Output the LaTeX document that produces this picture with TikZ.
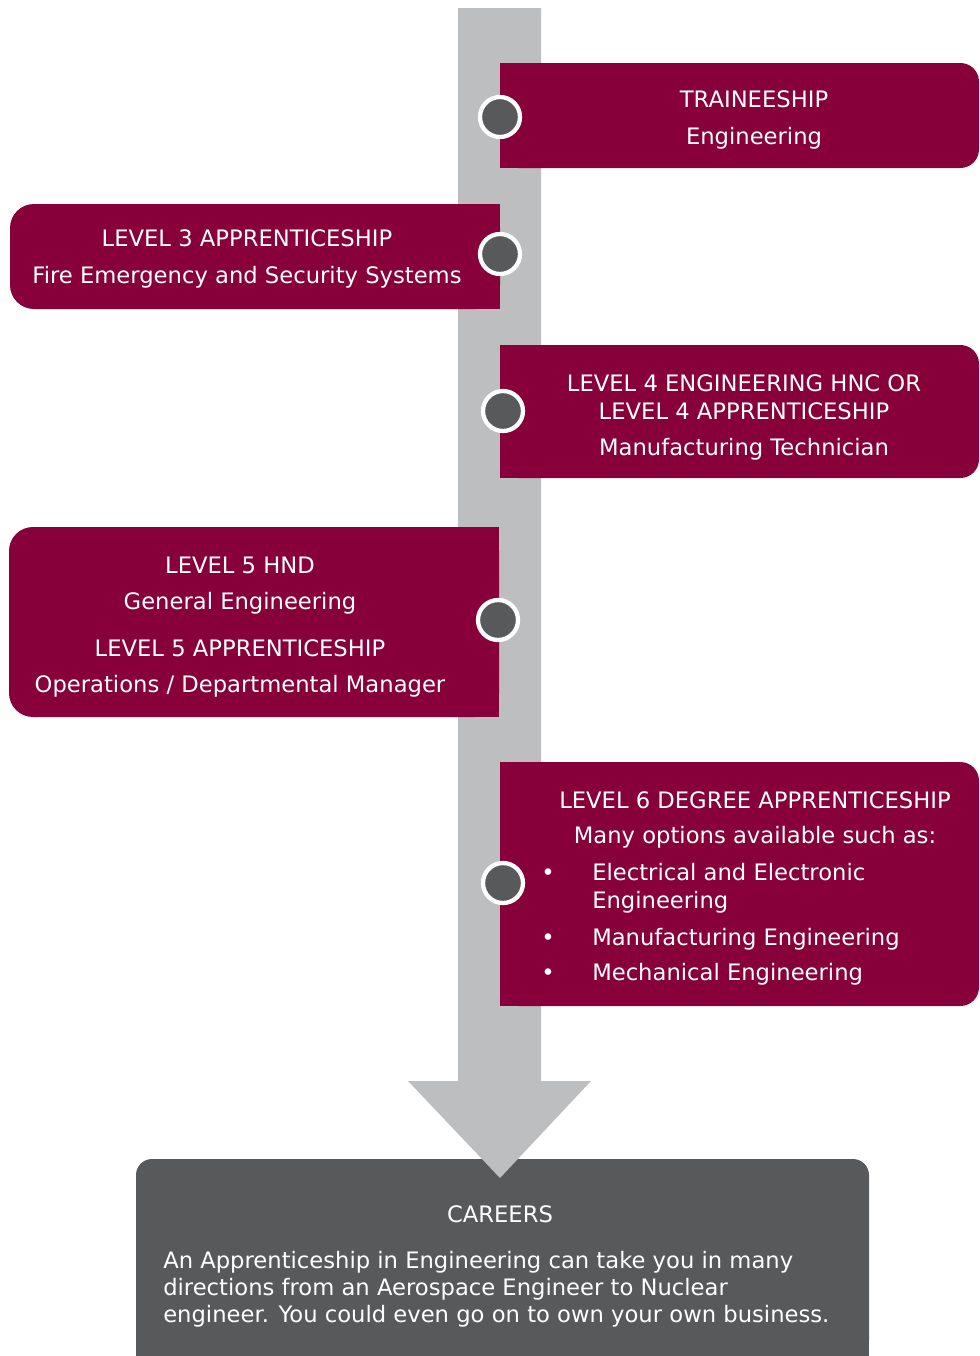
\documentclass[tikz,border=0pt]{standalone}
\usepackage{fontspec}
\setmainfont{DejaVu Sans}
\usepackage{tikz}
\usetikzlibrary{positioning}
\definecolor{wine}{RGB}{135,0,58}
\definecolor{slate}{RGB}{88,89,91}
\definecolor{rail}{RGB}{188,190,192}

\begin{document}
\begin{tikzpicture}[x=0.75pt,y=-0.75pt,
  txt/.style={text=white, inner sep=0pt, anchor=base, font=\fontsize{17}{20}\selectfont},
  txtl/.style={txt, anchor=base west},
  dot/.style={circle, fill=slate, draw=white, line width=3.2pt, minimum size=30pt, inner sep=0pt}]
\useasboundingbox (0,0) rectangle (979,1356);
% careers box, square at the bottom
\fill[slate, rounded corners=12] (136,1159) rectangle (869,1356);
\fill[slate] (136,1300) rectangle (869,1356);
% grey rail with arrow head
\fill[rail] (458,8)--(541,8)--(541,1081)--(591,1081)--(500,1178)--(408,1081)--(458,1081)--cycle;
% panels
\fill[wine, rounded corners=14] (500,63) rectangle (979,168);
\fill[wine] (500,63) rectangle (600,168);
\fill[wine, rounded corners=18] (10,204) rectangle (500,309);
\fill[wine] (400,204) rectangle (500,309);
\fill[wine, rounded corners=14] (500,345) rectangle (979,478);
\fill[wine] (500,345) rectangle (600,478);
\fill[wine, rounded corners=18] (9,527) rectangle (499,717);
\fill[wine] (400,527) rectangle (499,717);
\fill[wine, rounded corners=14] (500,762) rectangle (979,1006);
\fill[wine] (500,762) rectangle (600,1006);
\foreach \x/\y [count=\i] in {500/117, 500/254, 503/411, 498/620, 503/883}
  \node[dot] (dot\i) at (\x,\y) {};
\path
(754,107) node[txt] (trainTitle) {TRAINEESHIP}
(754,144) node[txt] (trainSub) {Engineering};
\path
(247,246) node[txt] (lvlthreeTitle) {LEVEL 3 APPRENTICESHIP}
(247,283) node[txt] (lvlthreeSub) {Fire Emergency and Security Systems};
\path
(744,391) node[txt] (lvlfourTitle) {LEVEL 4 ENGINEERING HNC OR}
(744,419) node[txt] (lvlfourTitleb) {LEVEL 4 APPRENTICESHIP}
(744,455) node[txt] (lvlfourSub) {Manufacturing Technician};
\path
(240,573) node[txt] (lvlfiveTitle) {LEVEL 5 HND}
(240,609) node[txt] (lvlfiveSub) {General Engineering}
(240,656) node[txt] (lvlfiveTitleb) {LEVEL 5 APPRENTICESHIP}
(240,692) node[txt] (lvlfiveSubb) {Operations / Departmental Manager};
\path
(755,808) node[txt] (lvlsixTitle) {LEVEL 6 DEGREE APPRENTICESHIP}
(755,843) node[txt] (lvlsixSub) {Many options available such as:};
\foreach \y in {880,945,980} \path (548,\y) node[txt] (bullet\y) {•};
\path
(592,880) node[txtl] (optElec) {Electrical and Electronic}
(592,908) node[txtl] (optElecb) {Engineering}
(592,945) node[txtl] (optManu) {Manufacturing Engineering}
(592,980) node[txtl] (optMech) {Mechanical Engineering};
\path
(500,1222) node[txt] (careerTitle) {CAREERS}
(163,1268) node[txtl] (careerA) {An Apprenticeship in Engineering can take you in many}
(163,1295) node[txtl] (careerB) {directions from an Aerospace Engineer to Nuclear}
(163,1322) node[txtl] (careerC) {engineer. You could even go on to own your own business.};
\end{tikzpicture}
\end{document}
